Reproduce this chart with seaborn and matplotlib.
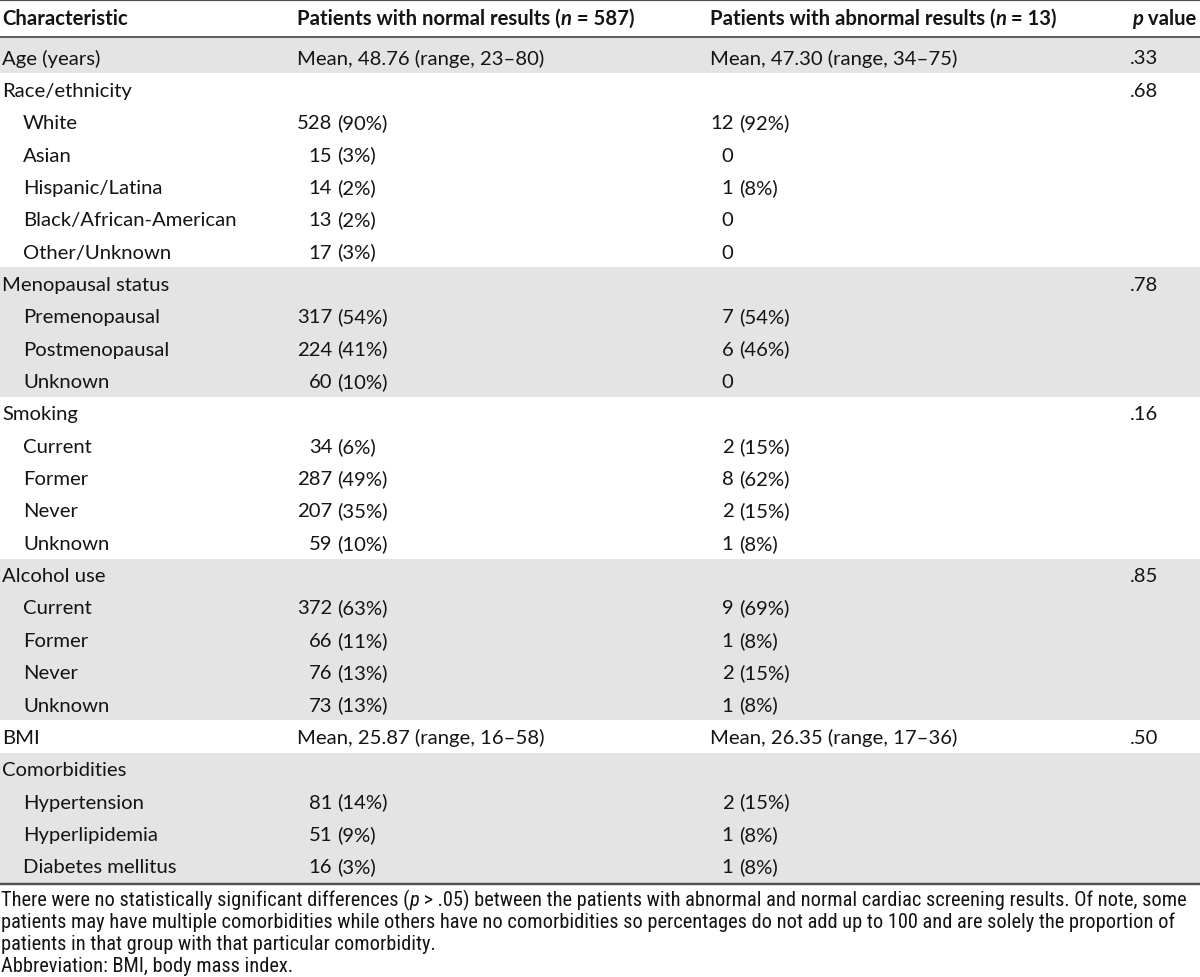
import matplotlib
matplotlib.use("Agg")
import matplotlib.pyplot as plt
import seaborn as sns
from matplotlib import font_manager as fm

# ---------------- data ----------------
characteristics = [
    "Age (years)", "Race/ethnicity", "White", "Asian", "Hispanic/Latina",
    "Black/African-American", "Other/Unknown", "Menopausal status",
    "Premenopausal", "Postmenopausal", "Unknown", "Smoking", "Current",
    "Former", "Never", "Unknown", "Alcohol use", "Current", "Former",
    "Never", "Unknown", "BMI", "Comorbidities", "Hypertension",
    "Hyperlipidemia", "Diabetes mellitus",
]
levels = [0, 0, 1, 1, 1, 1, 1, 0, 1, 1, 1, 0, 1, 1, 1, 1, 0, 1, 1, 1, 1,
          0, 0, 1, 1, 1]
normal_col = [
    "Mean, 48.76 (range, 23\u201380)", "", "528 (90%)", "15 (3%)", "14 (2%)",
    "13 (2%)", "17 (3%)", "", "317 (54%)", "224 (41%)", "60 (10%)", "",
    "34 (6%)", "287 (49%)", "207 (35%)", "59 (10%)", "", "372 (63%)",
    "66 (11%)", "76 (13%)", "73 (13%)", "Mean, 25.87 (range, 16\u201358)", "",
    "81 (14%)", "51 (9%)", "16 (3%)",
]
abnormal_col = [
    "Mean, 47.30 (range, 34\u201375)", "", "12 (92%)", "0", "1 (8%)", "0", "0",
    "", "7 (54%)", "6 (46%)", "0", "", "2 (15%)", "8 (62%)", "2 (15%)",
    "1 (8%)", "", "9 (69%)", "1 (8%)", "2 (15%)", "1 (8%)",
    "Mean, 26.35 (range, 17\u201336)", "", "2 (15%)", "1 (8%)", "1 (8%)",
]
p_values = [
    ".33", ".68", "", "", "", "", "", ".78", "", "", "", ".16", "", "", "",
    "", ".85", "", "", "", "", ".50", "", "", "", "",
]
group_n = [587, 13]
footnotes = [
    "patients may have multiple comorbidities while others have no comorbidities so percentages do not add up to 100 and are solely the proportion of",
    "patients in that group with that particular comorbidity.",
    "Abbreviation: BMI, body mass index.",
]
footnote_first = ("There were no statistically significant differences (", "p",
                  " > .05) between the patients with abnormal and normal cardiac screening results. Of note, some")

# ---------------- style ----------------
sns.set_theme(style="white")
names = {f.name for f in fm.fontManager.ttflist}
BODY = "Lato" if "Lato" in names else "DejaVu Sans"
NARROW = next((n for n in ["Liberation Sans Narrow", "Roboto Condensed",
                           "Open Sans Condensed"] if n in names), BODY)
plt.rcParams["font.family"] = [BODY, "DejaVu Sans"]

TXT = "#141414"
GRAY = "#e4e4e4"
LINE = "#505050"

W, H = 1200, 978
fig = plt.figure(figsize=(W / 100, H / 100), dpi=100)
ax = fig.add_axes([0, 0, 1, 1])
ax.set_xlim(0, W)
ax.set_ylim(H, 0)
ax.axis("off")
fig.canvas.draw()
R = fig.canvas.get_renderer()


def _w(s, size, family, weight="normal", style="normal"):
    t = ax.text(0, 0, s, fontsize=size, family=[family, "DejaVu Sans"],
                fontweight=weight, fontstyle=style)
    w = t.get_window_extent(renderer=R).width
    t.remove()
    return w


def adv(s, size, family, weight="normal", style="normal"):
    return (_w("|" + s + "|", size, family, weight, style)
            - _w("||", size, family, weight, style))


def put(x, y, s, size, family=BODY, weight="normal", style="normal", ha="left"):
    ax.text(x, y, s, fontsize=size, family=[family, "DejaVu Sans"],
            fontweight=weight, fontstyle=style, ha=ha, va="baseline", color=TXT)


def runs(x, y, parts, size, family=BODY):
    for s, weight, style in parts:
        put(x, y, s, size, family, weight, style)
        x += adv(s, size, family, weight, style)


# calibrate body font size on a measured text width (246 px)
fs = 10 * 246 / adv(normal_col[0], 10, BODY)
# calibrate footnote size on first footnote line width
ff = 10 * 1174 / sum(adv(s, 10, NARROW, "normal", st) for s, st in
                     zip(footnote_first, ["normal", "italic", "normal"]))

# ---------------- geometry ----------------
COLX = [2, 297, 710, 1130]
INDENT = 23
HEAD_Y = 25
BASE0, STEP = 64.5, 32.35
HEAD_LINE, BOTTOM_LINE = 37.5, 884.5

baselines = [BASE0 + STEP * i for i in range(len(characteristics))]
tops = [b - 22.5 for b in baselines]
bottoms = [b + STEP - 22.5 for b in baselines]

# shading of alternating groups
group = -1
groups = []
for lv in levels:
    if lv == 0:
        group += 1
    groups.append(group)
for g in range(group + 1):
    rows = [i for i, gg in enumerate(groups) if gg == g]
    if g % 2 == 0:
        top = tops[rows[0]] if rows[0] > 0 else HEAD_LINE + 1
        bot = bottoms[rows[-1]] if rows[-1] < len(levels) - 1 else BOTTOM_LINE - 1
        ax.axhspan(top, bot, color=GRAY, lw=0, zorder=0)

# rules
px = 72 / 100
ax.plot([0, W], [1.2, 1.2], color=LINE, lw=2.2 * px, solid_capstyle="butt")
ax.plot([0, W], [HEAD_LINE, HEAD_LINE], color=LINE, lw=1.8 * px, solid_capstyle="butt")
ax.plot([0, W], [BOTTOM_LINE, BOTTOM_LINE], color=LINE, lw=2.4 * px, solid_capstyle="butt")

# header
EQ = " = "
put(COLX[0], HEAD_Y, "Characteristic", fs, weight="bold")
runs(COLX[1], HEAD_Y, [("Patients with normal results (", "bold", "normal"),
                       ("n", "bold", "italic"),
                       (f"{EQ}{group_n[0]})", "bold", "normal")], fs)
runs(COLX[2], HEAD_Y, [("Patients with abnormal results (", "bold", "normal"),
                       ("n", "bold", "italic"),
                       (f"{EQ}{group_n[1]})", "bold", "normal")], fs)
runs(COLX[3] + 2, HEAD_Y, [("p", "bold", "italic"), (" value", "bold", "normal")], fs)


# body
def count_right(col, x0):
    counts = [s.split(" ")[0] for s in col if s and not s.startswith("Mean")]
    return x0 + max(adv(c, fs, BODY) for c in counts)


space = adv(" ", fs, BODY)
for colvals, x0 in [(normal_col, COLX[1]), (abnormal_col, COLX[2])]:
    right = count_right(colvals, x0)
    for i, s in enumerate(colvals):
        if not s:
            continue
        if s.startswith("Mean"):
            put(x0, baselines[i], s, fs)
        else:
            parts = s.split(" ", 1)
            put(right, baselines[i], parts[0], fs, ha="right")
            if len(parts) > 1:
                put(right + space, baselines[i], parts[1], fs)

for i, (lab, lv) in enumerate(zip(characteristics, levels)):
    put(COLX[0] + (INDENT - 2) * lv, baselines[i], lab, fs)
    if p_values[i]:
        put(COLX[3], baselines[i], p_values[i], fs)

# footnotes
FOOT0, FSTEP = 906.5, 22
runs(1, FOOT0, [(footnote_first[0], "normal", "normal"),
                (footnote_first[1], "normal", "italic"),
                (footnote_first[2], "normal", "normal")], ff, NARROW)
for k, line in enumerate(footnotes):
    put(1, FOOT0 + FSTEP * (k + 1), line, ff, family=NARROW)

fig.savefig("out.png", dpi=100, facecolor="white")
